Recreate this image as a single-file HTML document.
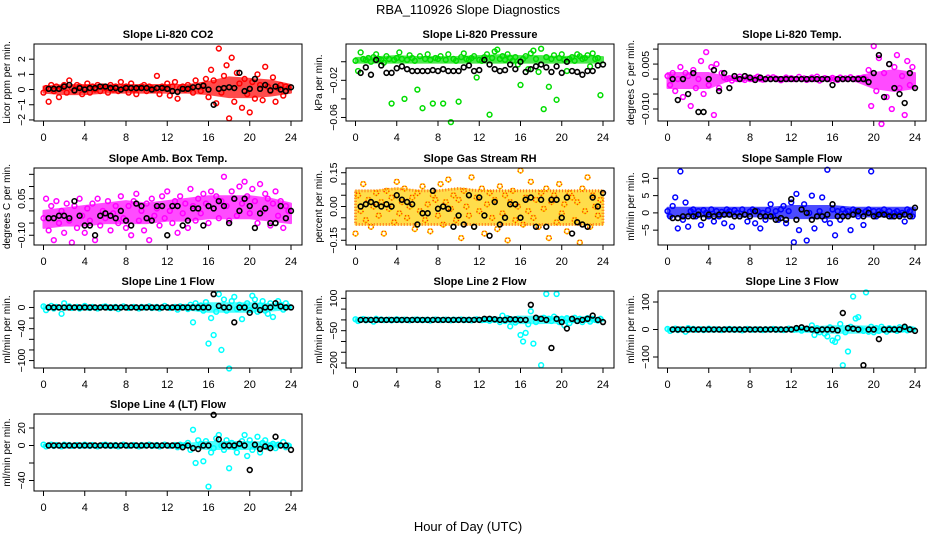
<!DOCTYPE html>
<html><head><meta charset="utf-8">
<style>
html,body{margin:0;padding:0;background:#fff;}
svg{display:block;font-family:"Liberation Sans",Arial,sans-serif;}
</style></head>
<body>
<svg id="chart" width="936" height="540" viewBox="0 0 936 540" xmlns="http://www.w3.org/2000/svg">
<rect width="936" height="540" fill="#fff"/>
<text x="468" y="14" text-anchor="middle" font-size="13">RBA_110926  Slope Diagnostics</text>
<text x="468" y="531" text-anchor="middle" font-size="13">Hour of Day (UTC)</text>
</svg>
<script>
// ---------- data ----------
const xTicks = [0,4,8,12,16,20,24];
const titles = ["Slope Li-820 CO2","Slope Li-820 Pressure","Slope Li-820 Temp.","Slope Amb. Box Temp.","Slope Gas Stream RH","Slope Sample Flow","Slope Line 1 Flow","Slope Line 2 Flow","Slope Line 3 Flow","Slope Line 4 (LT) Flow"];
const yLabels = ["Licor ppm per min.","kPa per min.","degrees C per min.","degrees C per min.","percent per min.","ml/min per min.","ml/min per min.","ml/min per min.","ml/min per min.","ml/min per min."];
const yTickVals = [[-2,-1,0,1,2],[0,-0.02,-0.04,-0.06],[0.010,0.005,0,-0.005,-0.010],[0.15,0.10,0.05,0,-0.05,-0.10],[0.15,0.10,0.05,0,-0.05,-0.10,-0.15],[10,5,0,-5],[0,-20,-40,-60,-80,-100],[100,50,0,-50,-100,-150,-200],[100,0,-100],[20,0,-20,-40]];
const yTickLabels = [["\u22122","\u22121","0","1","2"],["","\u22120.02","","\u22120.06"],["","0.005","","","\u22120.010"],["","","0.05","","","\u22120.10"],["0.15","","","0.00","","","\u22120.15"],["10","5","0","\u22125"],["0","","\u221240","","","\u2212100"],["100","","","\u221250","","","\u2212200"],["100","0","\u2212100"],["20","0","","\u221240"]];
const yMin = [-2.07,-0.0638,-0.014,-0.14,-0.171,-9.3,-114,-223,-140,-52];
const yMax = [3.0,0.0191,0.0117,0.176,0.171,13.0,31,134,140,36];

// dense-cloud envelopes, every 2 hours (0..24)
const bandHours = [0,2,4,6,8,10,12,14,16,18,20,22,24];
const co2Lo = [-0.2,-0.3,-0.3,-0.2,-0.2,-0.2,-0.2,-0.2,-0.3,-0.5,-0.5,-0.4,-0.2];
const co2Hi = [0.2,0.3,0.3,0.3,0.3,0.3,0.3,0.3,0.5,0.8,0.7,0.6,0.3];
const presLo = [-0.001,-0.001,-0.001,-0.001,-0.001,-0.001,-0.001,-0.001,-0.001,-0.001,-0.001,-0.001,-0.001];
const presHi = [0.004,0.005,0.006,0.005,0.005,0.005,0.006,0.007,0.006,0.006,0.005,0.006,0.005];
const tempLo = [-0.003,-0.003,-0.003,-0.0003,-0.0003,-0.0003,-0.0003,-0.0003,-0.0003,-0.0003,-0.003,-0.004,-0.003];
const tempHi = [0.002,0.002,0.002,0.0005,0.0005,0.0005,0.0005,0.0005,0.0005,0.0005,0.002,0.003,0.002];
const ambLo = [-0.07,-0.06,-0.06,-0.05,-0.05,-0.05,-0.04,-0.04,-0.03,-0.03,-0.03,-0.04,-0.05];
const ambHi = [0.0,0.01,0.02,0.03,0.04,0.03,0.04,0.05,0.06,0.06,0.06,0.05,0.03];
const rhLo = [-0.08,-0.08,-0.08,-0.08,-0.08,-0.08,-0.08,-0.08,-0.08,-0.08,-0.08,-0.08,-0.08];
const rhHi = [0.07,0.07,0.08,0.07,0.07,0.08,0.07,0.07,0.07,0.07,0.07,0.07,0.07];
const sampLo = [-1,-1,-1,-1,-1,-1,-1.5,-1.5,-1.5,-1,-1,-1,-1];
const sampHi = [1.5,1.5,1.5,1.5,1.5,1.5,2,2,2,1.5,1.5,1.5,1.5];
const l1Lo = [-3,-3,-3,-3,-3,-3,-3,-4,-8,-8,-8,-6,-3];
const l1Hi = [3,3,3,3,3,3,3,4,8,8,8,6,3];
const l2Lo = [-6,-6,-6,-6,-6,-6,-6,-8,-15,-15,-12,-10,-6];
const l2Hi = [6,6,6,6,6,6,6,8,15,15,12,10,6];
const l3Lo = [-6,-6,-6,-6,-6,-6,-6,-8,-12,-12,-10,-8,-6];
const l3Hi = [6,6,6,6,6,6,6,8,12,12,10,8,6];
const l4Lo = [-1,-1,-1,-1,-1,-1,-1,-2,-4,-4,-4,-3,-1];
const l4Hi = [1,1,1,1,1,1,1,2,4,4,4,3,1];

const co2Col = [-0.2,0.1,-0.8,0.3,-0.1,0.2,-0.5,0.1,0.3,-0.2,0.6,0.1,-0.1,0.3,0.2,-0.3,0.1,0.4,-0.2,0.2,0,0.3,-0.1,0.2,0.1,-0.2,0.3,0,0.2,-0.1,0.5,0.1,0.2,-0.2,0.4,0,-0.3,0.1,0.2,0.3,-0.1,0.2,0.1,0,0.9,-0.3,0.2,0.1,0.4,-0.4,0.2,0.5,-0.6,0.1,0.2,0,0.3,0.1,-0.2,0.6,0.2,-0.1,0.3,0.7,-0.5,1.3,0.6,-0.9,2.7,-0.2,0.9,1.6,-1.9,2.1,-0.8,1.1,0.4,-1.2,0.7,-0.3,-1.5,0.5,-0.6,1.0,0.3,-0.7,1.5,0.2,-0.1,0.8,-0.8,0.1,0.3,-0.4,0.2,0.1];
const co2Blk = [0.05,0.05,0.05,0.2,0.3,-0.05,0.1,0,0.1,0.1,0.2,0.2,0.1,0.1,0,0.1,0.1,0.1,0.1,0.1,0,0.1,0.1,0.05,-0.1,-0.15,0.05,0.05,0.15,0.2,0.25,0,-1.0,0.05,0.1,0.15,0.1,1.1,-0.1,0.05,0.7,0.05,0.3,-0.05,0.2,0,-0.1,0.15];
const presCol = [0.001,-0.01,0.01,0.003,0.002,0.004,0.0,0.005,0.008,0.003,0.002,-0.001,0.006,0.003,-0.045,0.002,0.004,0.01,0.003,-0.04,0.002,0.007,0.004,0.001,-0.03,0.006,-0.05,0.003,0.008,0.002,-0.045,0.004,0.003,0.006,-0.045,0.002,0.008,-0.065,0.003,0.001,-0.043,0.005,0.009,0.003,0.002,0.004,0.006,-0.017,0.002,0.001,0.005,0.008,-0.057,0.004,0.011,0.013,0.003,0.006,0.002,0.008,0.004,0.001,0.005,-0.003,-0.025,0.003,0.006,-0.008,0.009,0.012,0.003,-0.011,0.014,-0.051,0.005,-0.027,0.003,0.007,-0.041,0.004,0.008,0.002,-0.01,0.003,0.005,0.001,0.008,0.006,0.003,0.004,0.007,-0.005,0.009,0.003,0.004,-0.036];
const presBlk = [-0.012,-0.006,-0.014,0.002,-0.004,-0.012,-0.012,-0.007,-0.005,-0.008,-0.010,-0.010,-0.010,-0.010,-0.009,-0.010,-0.008,-0.010,-0.010,-0.010,-0.006,-0.004,-0.010,-0.009,0.002,-0.003,-0.008,-0.010,-0.009,-0.003,-0.008,0.0,-0.011,-0.008,-0.005,-0.003,-0.006,-0.011,-0.005,-0.012,0.0,-0.010,-0.011,-0.014,-0.010,-0.010,-0.004,-0.003];
const tempCol = [0.001,-0.002,0.002,-0.004,0.0,0.004,-0.006,0.002,0.001,-0.009,0.003,-0.003,0.0,0.006,-0.005,0.009,-0.002,0.004,-0.012,0.005,-0.003,0.002,0.0005,0,0.0003,-0.0005,0.0002,0,0.0008,0,-0.0003,0.0005,0,0,0.0003,0.0008,0,-0.0002,0,0.0005,0,0.0006,0.0002,0,-0.0004,0,0.0005,0,0.0003,0,0,0.0007,0,0.0002,-0.0003,0,0.0005,0,0.0008,-0.0005,0,0.0003,0,0,0.0004,0,-0.0003,0.0005,0,0.0002,0,0.0006,0,0,0.0003,0,0.0005,-0.0002,0.003,-0.009,0.011,-0.004,0.007,-0.015,0.002,-0.006,0.005,-0.010,0.004,0.008,-0.003,0.001,-0.012,0.006,-0.002,0.004];
const tempBlk = [0,-0.007,0,-0.005,0.002,-0.011,-0.011,0,0.003,-0.004,0.002,-0.003,0.001,0,0.001,0.0005,-0.0003,0.0005,0,0,0,0,0,0,0,0,0,0,0,0,0,-0.002,0,0,0,0,0,0,-0.001,0.002,0.008,-0.006,0.005,-0.003,-0.005,-0.008,0.002,-0.003];
const ambCol = [-0.03,0.05,-0.08,0.02,-0.12,0.04,-0.05,0.0,-0.09,0.03,-0.04,-0.13,0.02,-0.07,0.05,-0.02,-0.09,0.01,-0.04,0.03,-0.12,0.05,-0.06,0.0,-0.03,0.04,-0.08,-0.01,0.02,-0.05,0.06,-0.03,-0.07,0.02,-0.1,0.04,0.07,-0.04,0.0,-0.08,0.03,-0.12,0.05,-0.02,0.01,-0.06,0.06,-0.03,0.08,0.0,-0.05,0.04,-0.09,0.06,-0.01,0.03,-0.07,0.09,0.02,-0.04,0.05,-0.01,0.07,0.03,-0.05,0.08,0.01,0.06,-0.03,0.04,0.14,0.02,-0.04,0.08,0.05,-0.02,0.1,0.03,0.12,0.06,-0.01,0.09,0.04,-0.05,0.11,0.0,0.07,0.05,-0.06,0.03,0.08,-0.02,0.04,-0.07,0.02,0.0];
const ambBlk = [-0.03,-0.03,-0.02,-0.02,-0.03,0.04,-0.02,-0.06,-0.06,-0.1,-0.02,-0.01,-0.02,-0.03,0.0,-0.04,-0.06,0.03,0.02,-0.03,-0.04,0.02,0.02,-0.10,0.02,0.02,-0.06,-0.04,0.01,0.01,-0.06,0.02,0.01,0.04,0.02,-0.05,0.05,0.0,0.05,0.02,-0.07,-0.01,0.01,-0.05,-0.05,0.02,-0.03,0.0];
const rhCol = [-0.12,0.05,-0.02,0.1,-0.06,0.03,-0.09,0.0,0.06,-0.04,0.02,-0.12,0.07,-0.01,0.04,-0.07,0.11,-0.03,0.02,0.08,-0.05,0.0,0.04,-0.1,0.06,-0.02,0.09,-0.06,0.01,-0.11,0.05,0.03,-0.04,0.1,-0.08,0.02,0.12,-0.01,0.05,-0.06,0.03,-0.14,0.07,0.0,-0.04,0.13,-0.09,0.04,-0.02,0.08,-0.12,0.01,0.06,-0.05,0.03,-0.1,0.09,-0.03,0.05,-0.15,0.02,0.07,-0.06,0.0,0.16,-0.08,0.04,-0.02,0.11,-0.05,0.03,-0.09,0.06,-0.01,0.08,-0.14,0.02,0.05,-0.07,0.1,-0.03,0.01,-0.11,0.06,0.04,-0.06,0.02,-0.16,0.08,-0.02,0.13,-0.09,0.05,0.0,-0.04,0.03];
const rhBlk = [0,0.01,0.02,0.01,0,0.01,0,0.05,0.03,0.02,0.01,-0.08,-0.03,-0.03,0.07,-0.01,0.0,-0.01,-0.09,-0.04,-0.08,0.05,-0.09,0.04,-0.04,-0.13,0.02,-0.08,-0.05,0.01,0.01,-0.05,0.03,0.04,-0.09,0.03,-0.09,0.03,0.03,-0.05,0.04,-0.12,-0.07,-0.08,-0.09,0.04,0.0,0.06];
const sampCol = [0.5,-1,2,4.5,-4.5,12,-2,3,-4,0.5,1,-1,0.5,-3.5,0.8,0,-1,1,-2.5,0.5,-1,0.3,-3,1,0.5,-4,0.8,0,-1,1,-0.5,-2.5,0.4,1,-3,0.5,-4.5,0,-2,0.8,2.5,-1,0.5,-2,1,2,-3,0.5,3,-8.5,5.5,-5,1,2.5,-8,0,5,-4.5,-1,0.5,4.5,-2,12.5,-3,1,-6.5,0.5,-2,1,0,0.5,-5,1,0.5,-1,0,-3.5,0.5,1,12,0.5,-1,0.5,0,1,-0.5,0.5,-1,0,0.5,-0.5,0,-2.5,1,0.5,-1];
const sampBlk = [-1.5,-1.5,-1,-1,-1,-0.5,-1.5,-0.5,-1,-0.5,-0.5,-0.5,-1,-1,-0.5,-1,0.5,-1,-1,-1,-2,-1.5,-2,4,-2,1,0,-2,-1,-1,-0.5,2.5,-1,-1,-1,-0.5,0.5,-1,0,-1,-0.5,-0.5,-1,-1,-1,-0.5,-1,1.5];
const l1Col = [2,-5,0,3,-2,1,0,-12,8,0,2,-1,0,1,-2,0,3,0,-1,1,0,-2,0,1,2,0,-1,0,1,-3,0,2,0,-1,0,1,0,-2,1,0,0,2,-1,0,1,-2,0,3,0,-1,0,1,-4,2,0,1,-3,5,-28,8,-2,4,-6,10,-68,-20,-52,-8,25,-80,15,-6,-115,12,20,-3,5,-22,2,8,-5,22,15,-8,4,12,-6,-12,8,-18,2,12,5,-4,8,2];
const l1Blk = [0,0,0,0,0,0,0,0,0,0,0,0,0,0,0,0,0,0,0,0,0,0,0,0,0,0,0,0,0,0,0,0,25,3,0,0,-28,0,0,-10,3,-5,0,0,8,2,0,0];
const l2Col = [3,-5,0,4,-2,1,0,-8,5,0,2,-1,0,1,-2,0,3,0,-1,1,0,-2,0,1,2,0,-1,0,1,-3,0,2,0,-1,0,1,0,-2,1,0,0,2,-1,0,1,-2,0,3,0,-1,0,1,-4,2,0,1,-10,20,-5,8,-30,0,-12,5,-70,-100,-60,-20,40,-110,-10,5,-210,10,120,5,-5,15,120,-10,5,-25,8,-15,0,10,-5,5,-10,3,8,-8,5,0,-3,5];
const l2Blk = [0,0,0,0,0,0,0,0,0,0,0,0,0,0,0,0,0,0,0,0,0,0,0,0,5,5,3,0,0,3,2,0,0,70,10,5,0,-130,5,-10,-40,5,-5,0,5,20,0,-10];
const l3Col = [2,-5,0,3,-2,1,0,-8,5,0,2,-1,0,1,-2,0,3,0,-1,1,0,-2,0,1,2,0,-1,0,1,-3,0,2,0,-1,0,1,0,-2,1,0,0,2,-1,0,1,-2,0,3,0,-1,0,1,-4,2,0,1,15,-20,5,-10,0,-15,-25,8,-40,-45,-30,20,-130,-10,-80,10,120,40,45,0,-5,135,-8,10,-10,5,-5,10,0,-8,5,0,3,-5,8,0,5,-3,2,0];
const l3Blk = [0,0,0,0,0,0,0,0,0,0,0,0,0,0,0,0,0,0,0,0,0,0,0,0,5,8,3,0,-3,0,0,0,-3,60,5,3,0,-130,0,0,-35,0,0,0,0,10,0,-5];
const l4Col = [1,-1,0,1,-0.5,0.5,0,-1,1,0,0.5,-0.5,0,0.5,-0.5,0,1,0,-0.5,0.5,0,-1,0,0.5,1,0,-0.5,0,0.5,-1,0,1,0,-0.5,0,0.5,0,-1,0.5,0,0,1,-0.5,0,0.5,-1,0,1,0,-0.5,0,0.5,-2,1,0,0.5,3,-5,18,-20,6,2,-18,5,-47,-8,-3,8,12,0,-5,6,-26,3,-2,-8,0,5,12,-12,6,-5,0,10,-8,3,6,-2,0,2,-3,1,0,4,-2,0];
const l4Blk = [0,0,0,0,0,0,0,0,0,0,0,0,0,0,0,0,0,0,0,0,0,0,0,0,0,0,-2,0,-3,-4,0,0,35,7,0,0,0,2,0,-28,1,-4,-1,-3,10,0,0,-5];

const bandLows = [co2Lo,presLo,tempLo,ambLo,rhLo,sampLo,l1Lo,l2Lo,l3Lo,l4Lo];
const bandHighs = [co2Hi,presHi,tempHi,ambHi,rhHi,sampHi,l1Hi,l2Hi,l3Hi,l4Hi];
const colorSeries = [co2Col,presCol,tempCol,ambCol,rhCol,sampCol,l1Col,l2Col,l3Col,l4Col];
const blackSeries = [co2Blk,presBlk,tempBlk,ambBlk,rhBlk,sampBlk,l1Blk,l2Blk,l3Blk,l4Blk];
const seriesColors = ["#ff0000","#00dd00","#ff00ff","#ff00ff","#ffd000","#0000ff","#00ffff","#00ffff","#00ffff","#00ffff"];

// ---------- drawing ----------
const NS = "http://www.w3.org/2000/svg";
const svg = document.getElementById("chart");
function mk(tag, attrs, parent) {
  const e = document.createElementNS(NS, tag);
  for (const k in attrs) e.setAttribute(k, attrs[k]);
  (parent || svg).appendChild(e);
  return e;
}
const colL = [34, 346, 658], boxW = 268, boxH = 77;
const rowT = [44, 168, 291, 414];

titles.forEach((t, p) => {
  const L = colL[p % 3], T = rowT[Math.floor(p / 3)], R = L + boxW, B = T + boxH;
  const g = mk("g", {});
  
  
  const xs = h => (L + 9.5) + h / 24 * (boxW - 20.5);
  const ys = v => B - (v - yMin[p]) / (yMax[p] - yMin[p]) * boxH;

  const title = mk("text", {x: L + boxW / 2, y: T - 6, "text-anchor": "middle", "font-size": 11, "font-weight": "bold"}, g);
  title.textContent = t;
  
  

  xTicks.forEach(h => {
    const x = xs(h);
    const tk = mk("line", {x1: x, x2: x, y1: B, y2: B + 5, stroke: "#000"}, g);
    
    
    const lb = mk("text", {x: x, y: B + 20, "text-anchor": "middle", "font-size": 11}, g);
    lb.textContent = h;
    
    
  });
  yTickVals[p].forEach((v, i) => {
    const y = ys(v);
    const tk = mk("line", {x1: L - 5, x2: L, y1: y, y2: y, stroke: "#000"}, g);
    
    
    const s = yTickLabels[p][i];
    if (s) {
      const lb = mk("text", {x: L - 9, y: y, "text-anchor": "middle", "font-size": 10.5, transform: "rotate(-90 " + (L - 9) + " " + y + ")"}, g);
      lb.textContent = s;
      
      
    }
  });
  const yl = mk("text", {x: L - 24, y: T + boxH / 2, "text-anchor": "middle", "font-size": 10, transform: "rotate(-90 " + (L - 24) + " " + (T + boxH / 2) + ")"}, g);
  yl.textContent = yLabels[p];
  
  

  // dense cloud band
  const up = bandHours.map((h, i) => xs(h) + "," + ys(bandHighs[p][i]));
  const dn = bandHours.map((h, i) => xs(h) + "," + ys(bandLows[p][i])).reverse();
  const band = mk("polygon", {points: up.concat(dn).join(" "), fill: seriesColors[p], stroke: seriesColors[p], "stroke-width": 2, "stroke-linejoin": "round", opacity: 0.7}, g);
  
  
  if (p === 4) {
    const b2 = mk("polygon", {points: up.concat(dn).join(" "), fill: "none", stroke: "#ff5000", "stroke-width": 3, "stroke-dasharray": "1 2", opacity: 0.7}, g);
    
    
  }

  colorSeries[p].forEach((v, i) => {
    const c = mk("circle", {cx: xs(i * 0.25), cy: ys(v), r: 2.4, fill: "none", stroke: seriesColors[p], "stroke-width": 1.5}, g);
    
    
    if (p === 4) {
      const c2 = mk("circle", {cx: xs(i * 0.25), cy: ys(v), r: 2.4, fill: "none", stroke: "#ff3000", "stroke-width": 1.5, "stroke-dasharray": "1 2"}, g);
      
      
    }
  });
  blackSeries[p].forEach((v, i) => {
    const c = mk("circle", {cx: xs(0.5 + i * 0.5), cy: ys(v), r: 2.4, fill: "none", stroke: "#000", "stroke-width": 1.6}, g);
    
    
  });

  const box = mk("rect", {x: L, y: T, width: boxW, height: boxH, fill: "none", stroke: "#000", "stroke-width": 1}, g);
  
  
});
</script>
</body></html>
